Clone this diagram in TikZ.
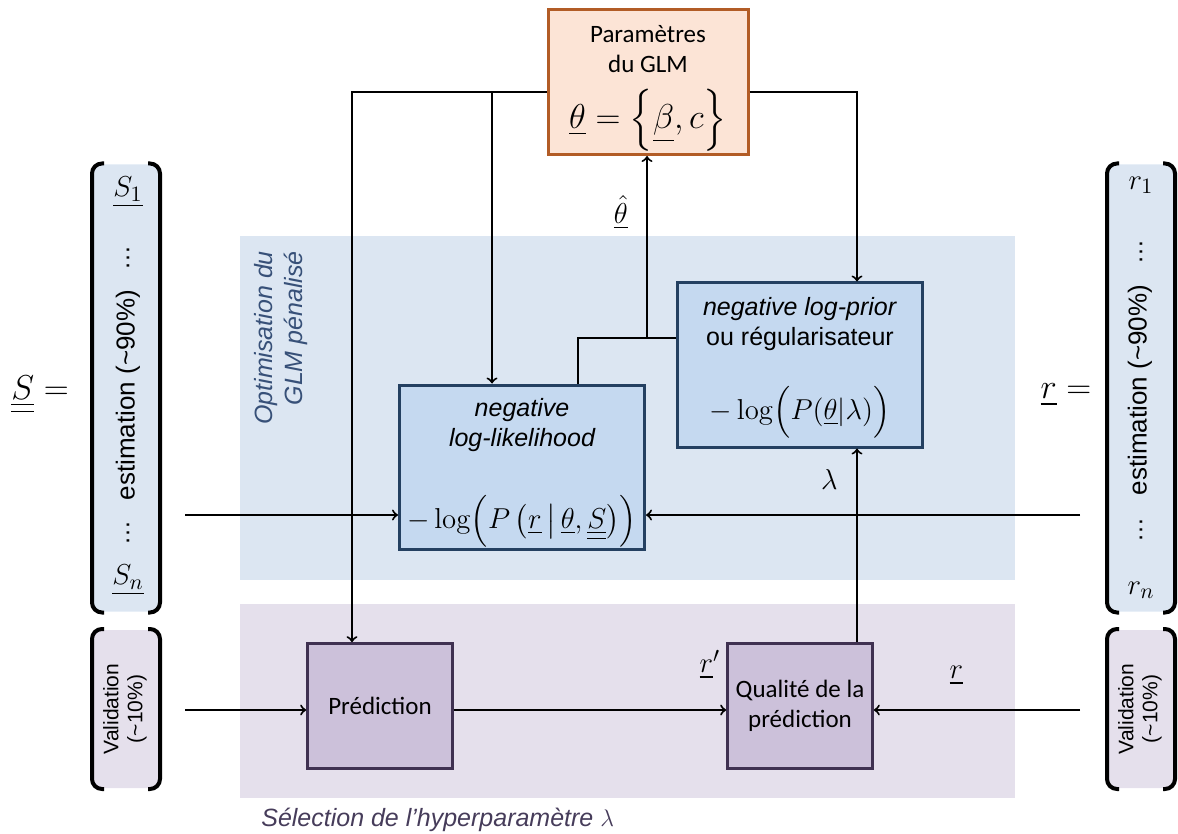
\documentclass[tikz,border=0pt]{standalone}
\usepackage{amsmath}
\usepackage[no-math]{fontspec}
\setmainfont{Carlito}
\setsansfont{Liberation Sans}
\usetikzlibrary{positioning}

\definecolor{glmfill}{RGB}{252,228,214}
\definecolor{glmborder}{RGB}{178,92,38}
\definecolor{optzone}{RGB}{220,230,242}
\definecolor{optfill}{RGB}{197,217,240}
\definecolor{optborder}{RGB}{36,64,97}
\definecolor{optlabel}{RGB}{55,80,120}
\definecolor{selzone}{RGB}{229,224,236}
\definecolor{selfill}{RGB}{204,193,218}
\definecolor{selborder}{RGB}{63,49,81}
\definecolor{sellabel}{RGB}{70,60,90}

\newcommand{\grand}{\fontsize{15}{18}\selectfont}
\newcommand{\petit}{\fontsize{10.5}{12}\selectfont}

\begin{document}
\begin{tikzpicture}[x=0.5pt,y=-0.5pt,on grid,line width=1pt,>=to,node font=\fontsize{12.5}{15}\selectfont]
	\tikzstyle{glmbox}=[draw=glmborder,fill=glmfill,line width=1.5pt,minimum width=100pt,minimum height=72.5pt,align=center,inner sep=0pt]
	\tikzstyle{optbox}=[draw=optborder,fill=optfill,line width=1.5pt,minimum width=122.5pt,minimum height=82pt,align=center,inner sep=0pt]
	\tikzstyle{selbox}=[draw=selborder,fill=selfill,line width=1.3pt,minimum width=72.5pt,minimum height=62.5pt,align=center,inner sep=0pt]
	\tikzstyle{vecbox}=[rounded corners=4pt,minimum width=33pt,inner sep=0pt]
	\tikzstyle{bracket}=[line width=2pt,rounded corners=5pt]
	\tikzstyle{arial}=[font=\sffamily]
	\useasboundingbox (0,0) rectangle (1178,834);

	% zones
	\fill[optzone] (240,236) rectangle (1015,580);
	\fill[selzone] (240,604) rectangle (1015,798);
	\node[rotate=90,align=right,text=optlabel,font=\sffamily\itshape] (OPT) at (281,338) {Optimisation du\\GLM pénalisé};
	\node[anchor=west,text=sellabel,font=\sffamily\itshape] (SEL) at (252,820) {Sélection de l’hyperparamètre $\lambda$};

	% blocs
	\node[glmbox] (GLM) at (648,82) {\rule{0pt}{15pt}Paramètres\\du GLM\\[7pt]{\fontsize{16.5}{20}\selectfont$\underline{\theta}=\Bigl\{\underline{\beta},c\Bigr\}$}};
	\node[optbox,font=\sffamily\itshape] (LIK) at (522,467) {\rule{0pt}{15pt}negative\\log-likelihood\\[21pt]{\grand$-\log\Bigl(P\left(\underline{r}\,\middle|\,\underline{\theta},\underline{\underline{S}}\right)\Bigr)$}};
	\node[selbox] (PRED) at (380,706) {Prédiction};
	\node[selbox] (QUAL) [right=210pt of PRED] {Qualité de la\\prédiction};
	\node[optbox,arial] (PRIOR) [above=170.5pt of QUAL] {\rule{0pt}{12pt}\textit{negative log-prior}\\ou régularisateur\\[17pt]{\grand$-\log\Bigl(P(\underline{\theta}|\lambda)\Bigr)$}};

	% vecteurs
	\node[vecbox,fill=optzone,minimum height=223.5pt] (SVEC) at (126,388) {};
	\node[vecbox,fill=selzone,minimum height=79pt] (SVAL) at (126,709) {};
	\node[vecbox,fill=optzone,minimum height=223.5pt] (RVEC) at (1141,388) {};
	\node[vecbox,fill=selzone,minimum height=79pt] (RVAL) at (1141,709) {};
	\foreach \v in {SVEC,SVAL,RVEC,RVAL}{
		\draw[bracket] ([xshift=6pt]\v.north west) -- (\v.north west) -- (\v.south west) -- ([xshift=6pt]\v.south west);
		\draw[bracket] ([xshift=-6pt]\v.north east) -- (\v.north east) -- (\v.south east) -- ([xshift=-6pt]\v.south east);
	}
	\node (SEQ) at (40,395) {\fontsize{18}{20}\selectfont$\underline{\underline{S}}=$};
	\node (S1) at (128,192) {\grand$\underline{S_1}$};
	\node[rotate=90,arial] (SD1) at (128,258) {\textellipsis};
	\node[rotate=90,arial] (SEST) at (128,395) {\fontsize{13}{16}\selectfont estimation (\textasciitilde90\%)};
	\node[rotate=90,arial] (SD2) at (128,533) {\textellipsis};
	\node (SN) at (128,580) {\grand$\underline{S_n}$};
	\node[rotate=90,align=center,font=\sffamily\petit] (SV) at (125,709) {Validation\\(\textasciitilde10\%)};
	\node (REQ) at (1066,395) {\fontsize{18}{20}\selectfont$\underline{r}=$};
	\node (R1) at (1141,185) {\grand$r_1$};
	\node[rotate=90,arial] (RD1) at (1141,252) {\textellipsis};
	\node[rotate=90,arial] (REST) at (1140,390) {\fontsize{13}{16}\selectfont estimation (\textasciitilde90\%)};
	\node[rotate=90,arial] (RD2) at (1141,530) {\textellipsis};
	\node (RN) at (1141,590) {\grand$r_n$};
	\node[rotate=90,align=center,font=\sffamily\petit] (RV) at (1140,709) {Validation\\(\textasciitilde10\%)};

	% points de passage
	\coordinate (TL) at (352,92);
	\coordinate (TB) at (492,92);
	\coordinate (TR) at (857,92);
	\coordinate (LO) at (578,338);
	\coordinate (J) at (647,338);
	\coordinate (SIN) at (185,515);
	\coordinate (RIN) at (1080,515);
	\coordinate (VL) at (185,710);
	\coordinate (VR) at (1080,710);

	% liaisons
	\draw[->] (GLM.west |- TL) -- (TL) -- (TL |- PRED.north);
	\draw[->] (TB) -- (TB |- LIK.north);
	\draw[->] (GLM.east |- TR) -- (TR) -- (TR |- PRIOR.north);
	\draw (LO |- LIK.north) -- (LO) -- (PRIOR.west |- LO);
	\draw[->] (J) -- node[left=5pt,pos=0.69] {\grand$\underline{\hat{\theta}}$} (J |- GLM.south);
	\draw[->] (QUAL.north -| TR) -- node[left=5pt,pos=0.84] {\grand$\lambda$} (PRIOR.south -| TR);
	\draw[->] (SIN) -- (LIK.west |- SIN);
	\draw[->] (RIN) -- (LIK.east |- RIN);
	\draw[->] (VL) -- (PRED.west |- VL);
	\draw[->] (PRED.east |- VL) -- node[above=11pt,pos=0.94] {\grand$\underline{r}'$} (QUAL.west |- VL);
	\draw[->] (VR) -- node[above=8pt,pos=0.6] {\grand$\underline{r}$} (QUAL.east |- VR);
\end{tikzpicture}
\end{document}
